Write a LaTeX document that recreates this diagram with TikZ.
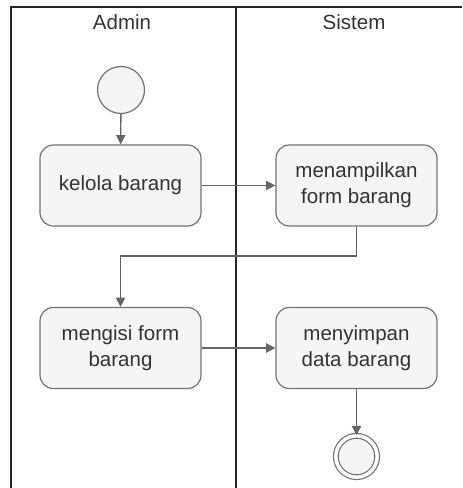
\documentclass[tikz,border=0pt]{standalone}
\usepackage{fontspec}
\setmainfont{Liberation Sans}
\usetikzlibrary{arrows.meta}
\tikzset{
  lane/.style={line width=1.2pt, black!85},
  activity/.style={draw=black!55, line width=0.9pt, fill=gray!8, rounded corners=10pt,
    minimum width=120.75pt, minimum height=60.75pt, align=center, text=black!80,
    font=\fontsize{15.4}{19.5}\selectfont},
  startnode/.style={circle, draw=black!55, line width=0.9pt, fill=gray!8, minimum size=35.25pt, inner sep=0pt},
  endnode/.style={circle, draw=black!55, line width=0.9pt, double=white, double distance=2.6pt,
    fill=gray!8, minimum size=31pt, inner sep=0pt},
  flow/.style={draw=black!60, line width=1pt, -{Triangle[length=7pt, width=7pt]}},
  lanetitle/.style={anchor=base, text=black!80, font=\fontsize{15.4}{19.5}\selectfont}
}
\begin{document}
\begin{tikzpicture}[x=0.75pt, y=-0.75pt]
      \useasboundingbox (0,0) rectangle (462,488);
      % swimlanes
      \draw[lane] (11,488) -- (11,7) -- (462,7);
      \draw[lane] (236,7) -- (236,488);
      \node[lanetitle] (admin) at (122,30) {Admin};
      \node[lanetitle] (sistem) at (354,30) {Sistem};
      % activities
      \node[startnode] (mulai) at (121,90) {};
      \node[activity] (kelola) at (120.5,185.5) {kelola barang};
      \node[activity] (tampil) at (356.5,185.5) {menampilkan\\form barang};
      \node[activity] (isi) at (120.5,348) {mengisi form\\barang};
      \node[activity] (simpan) at (356.5,348) {menyimpan\\data barang};
      \node[endnode] (selesai) at (356.5,456.5) {};
      \coordinate (belok) at (0,256);
      % flows
      \draw[flow] (mulai) -- (kelola);
      \draw[flow] (kelola) -- (tampil);
      \draw[flow] (tampil.south) -- (tampil.south |- belok) -| (isi.north);
      \draw[flow] (isi) -- (simpan);
      \draw[flow] (simpan) -- (selesai);
    \end{tikzpicture}
\end{document}
